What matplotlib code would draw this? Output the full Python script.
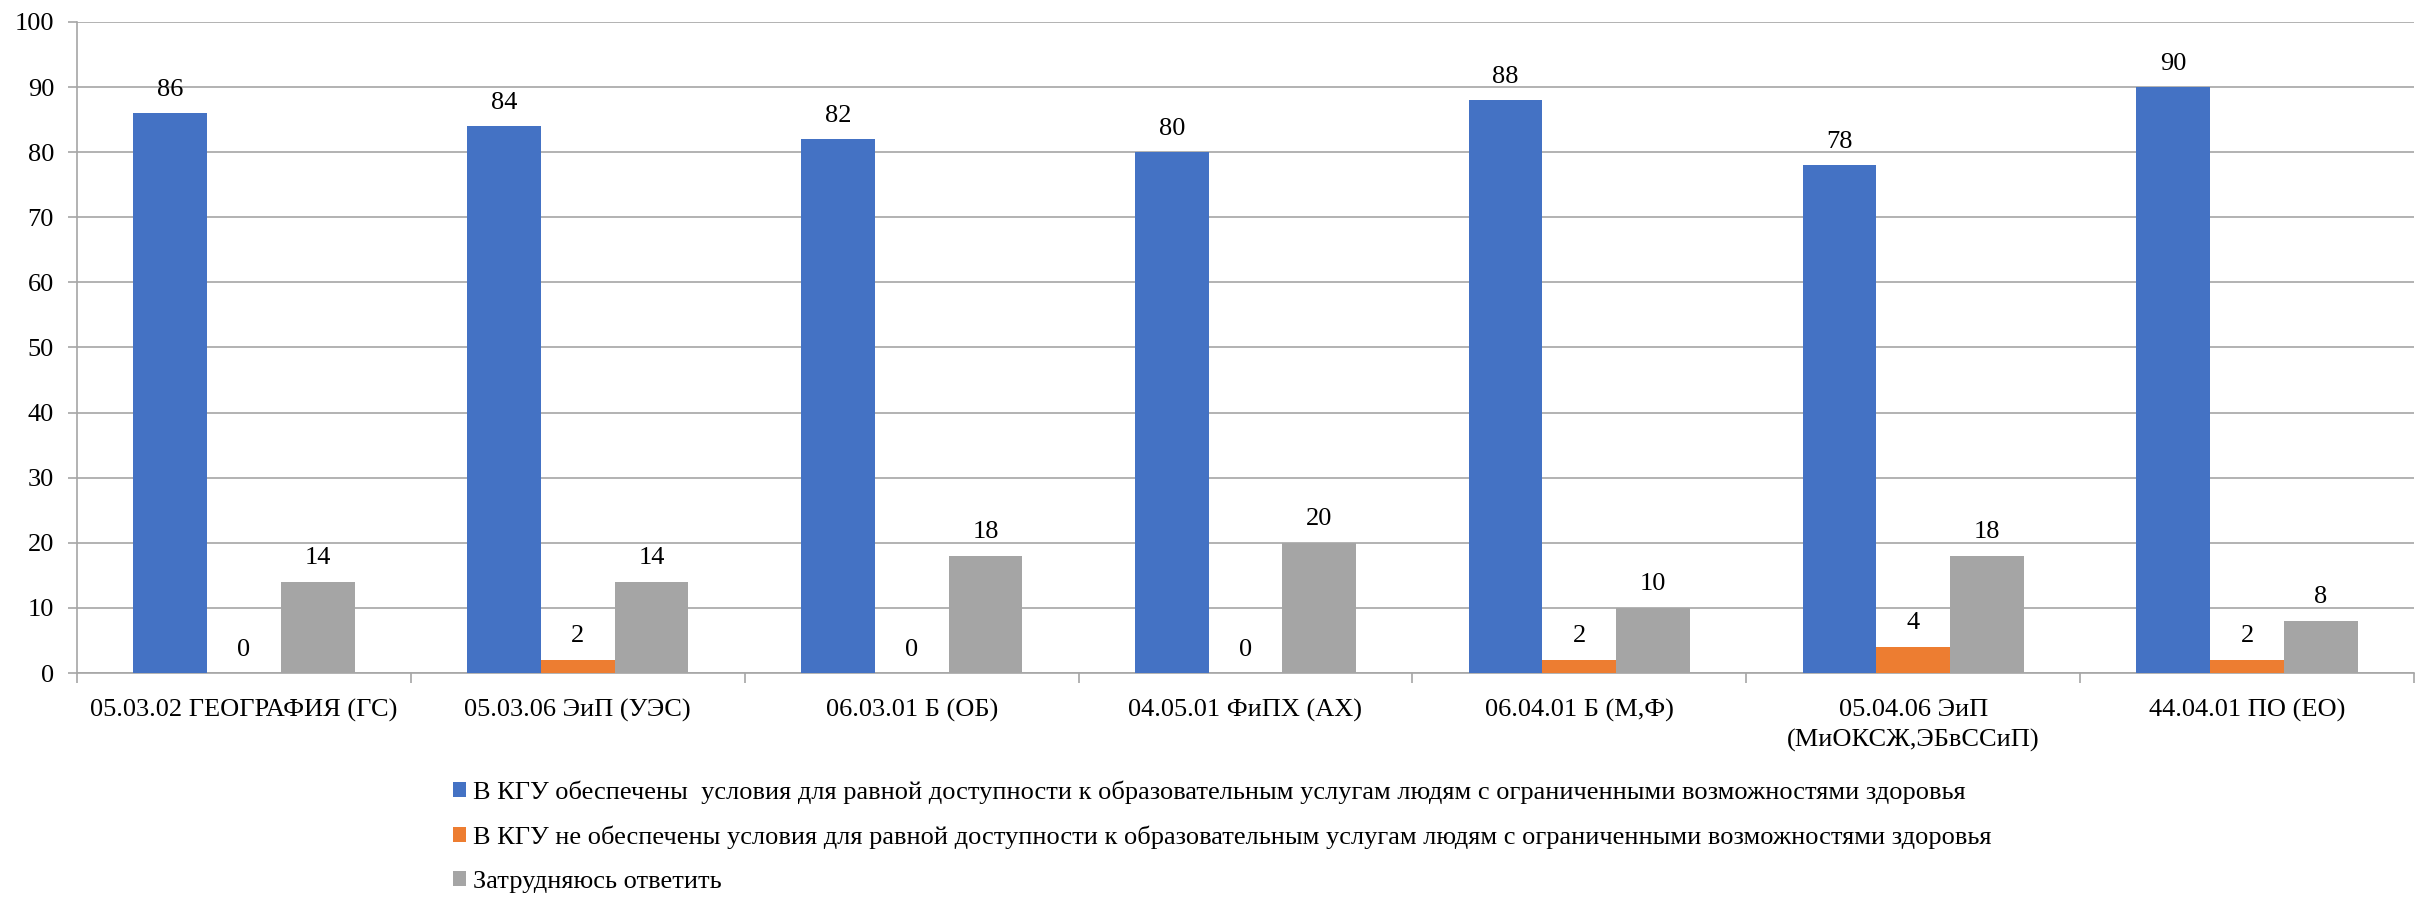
import matplotlib
matplotlib.use("Agg")
import matplotlib.pyplot as plt
import numpy as np

plt.rcParams['font.family'] = 'serif'
plt.rcParams['font.serif'] = ['Liberation Serif', 'DejaVu Serif']

categories = ["05.03.02 ГЕОГРАФИЯ (ГС)", "05.03.06 ЭиП (УЭС)", "06.03.01 Б (ОБ)",
              "04.05.01 ФиПХ (АХ)", "06.04.01 Б (М,Ф)",
              "05.04.06 ЭиП\n(МиОКСЖ,ЭБвССиП)", "44.04.01 ПО (ЕО)"]
provided = [86, 84, 82, 80, 88, 78, 90]
not_provided = [0, 2, 0, 0, 2, 4, 2]
hard_to_say = [14, 14, 18, 20, 10, 18, 8]
series_names = [
    "В КГУ обеспечены  условия для равной доступности к образовательным услугам людям с ограниченными возможностями здоровья",
    "В КГУ не обеспечены условия для равной доступности к образовательным услугам людям с ограниченными возможностями здоровья",
    "Затрудняюсь ответить",
]
colors = ["#4472C4", "#ED7D31", "#A5A5A5"]

fig = plt.figure(figsize=(24.15, 8.97), dpi=100)
ax = fig.add_axes([77/2415, (897-673)/897, (2414-77)/2415, (673-22)/897])

x = np.arange(len(categories))
w = 0.221
fs = 19
for i, (vals, name, c) in enumerate(zip([provided, not_provided, hard_to_say], series_names, colors)):
    bars = ax.bar(x + (i-1)*w, vals, w, color=c, label=name, zorder=3)
    ax.bar_label(bars, labels=[str(v) for v in vals], padding=9, fontsize=fs, color="#000000")

ax.set_xlim(-0.5, len(categories)-0.5)
ax.set_ylim(0, 100)
ax.set_yticks(np.arange(0, 101, 10))
ax.yaxis.grid(True, color="#A6A6A6", linewidth=1.2, zorder=0)
ax.set_axisbelow(True)
for s in ["top", "right"]:
    ax.spines[s].set_visible(False)
ax.spines["left"].set_color("#A6A6A6")
ax.spines["bottom"].set_color("#A6A6A6")
ax.spines["left"].set_linewidth(1.2)
ax.spines["bottom"].set_linewidth(1.2)

ax.set_xticks(x)
ax.set_xticklabels(categories, fontsize=fs, va="top", linespacing=1.4)
ax.tick_params(axis="x", length=0, pad=19)
ax.set_xticks(np.arange(-0.5, len(categories), 1), minor=True)
ax.tick_params(axis="x", which="minor", length=7, color="#A6A6A6", width=1.2)
ax.tick_params(axis="y", length=6.5, color="#A6A6A6", width=1.2, pad=10, labelsize=fs)

handles, labels = ax.get_legend_handles_labels()
fig.legend(handles, labels, loc="upper left", bbox_to_anchor=(453/2415, 1-780/897),
           frameon=False, fontsize=fs, ncol=1, handlelength=0.5, handleheight=0.5,
           handletextpad=0.27, labelspacing=0.84, borderpad=0, borderaxespad=0)

fig.savefig("out.png", dpi=100, facecolor="white")
